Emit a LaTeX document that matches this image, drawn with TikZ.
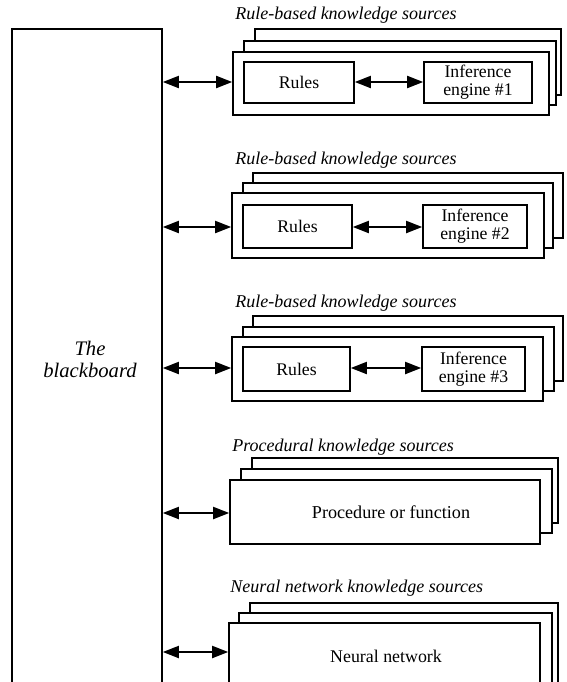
\documentclass[tikz,border=0pt]{standalone}
\usepackage{fontspec}
\setmainfont{Liberation Serif}
\usetikzlibrary{fit,arrows.meta}
\tikzset{
  sheet/.style={draw, fill=white, line width=1.2pt, inner sep=0pt},
  txt/.style={inner sep=0pt, align=center, font=\fontsize{13.3}{13.3}\selectfont},
  inbox/.style={draw, fill=white, line width=1.2pt, inner sep=0pt},
  ttl/.style={anchor=west, inner sep=0pt, font=\fontsize{13.5}{13.5}\selectfont\itshape},
  link/.style={line width=1.4pt, {Triangle[length=12pt,width=9pt]}-{Triangle[length=12pt,width=9pt]}},
}
\begin{document}
\begin{tikzpicture}[x=0.75pt,y=-0.75pt]
\useasboundingbox (0,0) rectangle (567,682);
\clip (0,0) rectangle (567,682);
% blackboard
\node[sheet, fit={(12,29) (162,720)}] (bb) {};
\node[inner sep=0pt, align=center, font=\fontsize{15.5}{16.5}\selectfont\itshape] (bbt) at (90,359) {The\\blackboard};

% group 1
\node[ttl] (t1) at (235,15) {Rule-based knowledge sources};
\node[sheet, fit={(255,29) (561,95)}] (b1) {};
\node[sheet, fit={(244,41) (556,105)}] (m1) {};
\node[sheet, fit={(233,52) (549,115)}] (f1) {};
\node[inbox, fit={(244,62) (354,103)}] (r1) {};
\node[txt] (r1t) at (r1.center) {Rules};
\node[inbox, fit={(424,62) (532,103)}] (e1) {};
\node[txt] (e1t) at (e1.center) {Inference\\engine \#1};
\draw[link] (bb.east |- 0,82) -- (f1.west |- 0,82);
\draw[link] (r1.east |- 0,82) -- (e1.west |- 0,82);

% group 2
\node[ttl] (t2) at (235,160) {Rule-based knowledge sources};
\node[sheet, fit={(253,173) (563,238)}] (b2) {};
\node[sheet, fit={(243,183) (553,248)}] (m2) {};
\node[sheet, fit={(232,193) (544,258)}] (f2) {};
\node[inbox, fit={(243,205) (352,248)}] (r2) {};
\node[txt] (r2t) at (r2.center) {Rules};
\node[inbox, fit={(423,205) (527,248)}] (e2) {};
\node[txt] (e2t) at (e2.center) {Inference\\engine \#2};
\draw[link] (bb.east |- 0,227) -- (f2.west |- 0,227);
\draw[link] (r2.east |- 0,227) -- (e2.west |- 0,227);

% group 3
\node[ttl] (t3) at (235,303) {Rule-based knowledge sources};
\node[sheet, fit={(253,316) (563,381)}] (b3) {};
\node[sheet, fit={(243,327) (554,391)}] (m3) {};
\node[sheet, fit={(232,337) (543,401)}] (f3) {};
\node[inbox, fit={(243,347) (350,391)}] (r3) {};
\node[txt] (r3t) at (r3.center) {Rules};
\node[inbox, fit={(422,347) (525,391)}] (e3) {};
\node[txt] (e3t) at (e3.center) {Inference\\engine \#3};
\draw[link] (bb.east |- 0,368) -- (f3.west |- 0,368);
\draw[link] (r3.east |- 0,368) -- (e3.west |- 0,368);

% procedural
\node[ttl] (t4) at (232,447) {Procedural knowledge sources};
\node[sheet, fit={(252,458) (558,523)}] (b4) {};
\node[sheet, fit={(241,469) (552,533)}] (m4) {};
\node[sheet, fit={(230,480) (540,544)}] (f4) {};
\node[txt, font=\fontsize{13.6}{14}\selectfont] (f4t) at (391,512) {Procedure or function};
\draw[link] (bb.east |- 0,513) -- (f4.west |- 0,513);

% neural
\node[ttl] (t5) at (230,588) {Neural network knowledge sources};
\node[sheet, fit={(250,603) (558,700)}] (b5) {};
\node[sheet, fit={(239,613) (552,710)}] (m5) {};
\node[sheet, fit={(229,623) (540,720)}] (f5) {};
\node[txt, font=\fontsize{13.4}{14}\selectfont] (n5) at (386,656) {Neural network};
\draw[link] (bb.east |- 0,652) -- (f5.west |- 0,652);
\end{tikzpicture}
\end{document}
